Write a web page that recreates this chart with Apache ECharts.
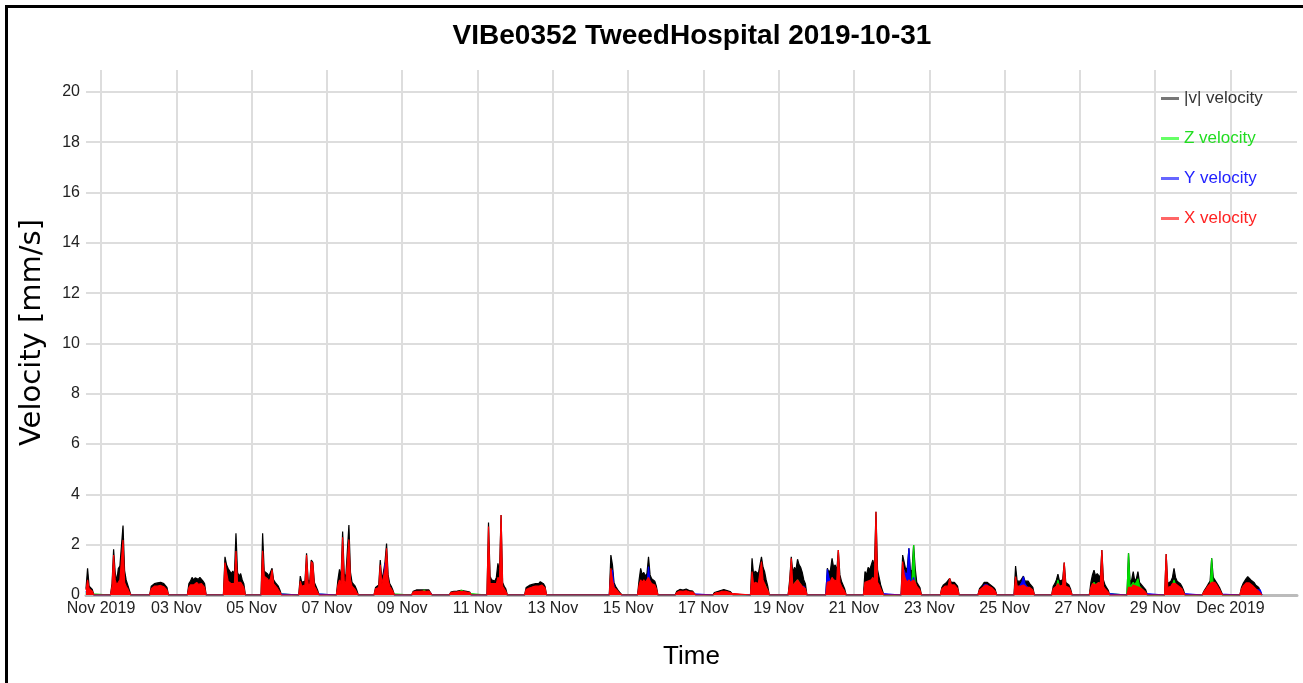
<!DOCTYPE html>
<html>
<head>
<meta charset="utf-8">
<script src="https://cdn.jsdelivr.net/npm/echarts@6/dist/echarts.min.js"></script>
<style>
html, body { margin: 0; padding: 0; background: #ffffff; }
#chart { width: 1303px; height: 683px; }
</style>
</head>
<body>
<div id="chart"></div>
<script>
// ---- Text ----
const chartTitle = 'VIBe0352 TweedHospital 2019-10-31';
const xAxisName = 'Time';
const yAxisName = 'Velocity [mm/s]';
const seriesNames = ['|v| velocity', 'Z velocity', 'Y velocity', 'X velocity'];

// ---- Axes (x in hours since 01 Nov 2019 00:00) ----
const xMinHour = -9.6;
const xMaxHour = 762.4;
const xTickHours = [0, 48, 96, 144, 192, 240, 288, 336, 384, 432, 480, 528, 576, 624, 672, 720];
const xTickLabels = ['Nov 2019', '03 Nov', '05 Nov', '07 Nov', '09 Nov', '11 Nov', '13 Nov', '15 Nov',
  '17 Nov', '19 Nov', '21 Nov', '23 Nov', '25 Nov', '27 Nov', '29 Nov', 'Dec 2019'];
const yMaxValue = 20.87;
const yTicks = [0, 2, 4, 6, 8, 10, 12, 14, 16, 18, 20];

// ---- Data: start hour of each activity burst, then hourly readings per burst ----
const burstStartHours = [-9.6, 6, 31, 55, 78, 102, 126, 150, 174, 198, 222, 246, 270, 324, 342, 366,
  390, 414, 438, 462, 486, 510, 535, 559, 582, 606, 630, 654, 678, 702, 726];

const vVelocity = [
  [0.25, 1.06, 0.35, 0.3, 0.22, 0],
  [0, 0.45, 1.82, 0.9, 0.55, 1.05, 1.15, 1.1, 2.76, 0.97, 0.6, 0.4, 0.2, 0],
  [0, 0.35, 0.42, 0.45, 0.5, 0.48, 0.55, 0.5, 0.52, 0.45, 0.4, 0.3, 0],
  [0, 0.45, 0.55, 0.7, 0.6, 0.68, 0.72, 0.62, 0.7, 0.65, 0.55, 0.45, 0],
  [0, 1.52, 1.2, 1.05, 1.1, 0.85, 0.95, 0.8, 2.45, 0.9, 0.75, 0.85, 0.6, 0.45, 0],
  [0, 2.45, 0.95, 0.9, 0.85, 0.75, 0.8, 1.06, 0.6, 0.5, 0.45, 0.35, 0.2, 0],
  [0, 0.75, 0.5, 0.45, 0.55, 1.66, 0.6, 0.5, 1.39, 1.3, 0.5, 0.35, 0.2, 0],
  [0, 0.6, 1.02, 0.7, 2.52, 0.85, 0.7, 0.75, 2.78, 0.9, 0.5, 0.45, 0.35, 0.2, 0],
  [0, 0.3, 0.35, 0.4, 1.39, 0.6, 0.9, 1.3, 2.05, 0.8, 0.45, 0.35, 0.2, 0],
  [0, 0.15, 0.18, 0.2, 0.18, 0.2, 0.19, 0.2, 0.22, 0.2, 0.19, 0.2, 0.18, 0],
  [0, 0.12, 0.14, 0.15, 0.15, 0.16, 0.17, 0.18, 0.22, 0.17, 0.16, 0.15, 0.14, 0.12, 0],
  [0, 2.88, 0.75, 0.6, 0.65, 0.55, 0.7, 1.26, 0.9, 3.18, 0.5, 0.35, 0.25, 0],
  [0, 0.3, 0.35, 0.38, 0.4, 0.42, 0.4, 0.45, 0.48, 0.45, 0.53, 0.5, 0.45, 0.35, 0],
  [0, 1.59, 1.2, 0.5, 0.35, 0.25, 0.15, 0.1, 0],
  [0, 0.6, 1.06, 0.8, 0.9, 0.75, 0.85, 1.52, 0.8, 0.65, 0.7, 0.55, 0.35, 0],
  [0, 0.15, 0.2, 0.22, 0.24, 0.2, 0.22, 0.24, 0.2, 0.18, 0.2, 0.16, 0.12, 0],
  [0, 0.1, 0.12, 0.14, 0.15, 0.18, 0.2, 0.22, 0.2, 0.18, 0.16, 0.14, 0.1, 0],
  [0, 1.46, 0.8, 0.95, 1.0, 0.85, 0.9, 1.52, 1.1, 0.93, 0.6, 0.35, 0],
  [0, 0.6, 1.52, 0.9, 1.1, 1.0, 1.42, 1.2, 1.1, 0.9, 0.6, 0.45, 0],
  [0, 1.06, 0.9, 1.0, 1.46, 1.1, 1.2, 0.95, 1.79, 0.8, 0.55, 0.4, 0.25, 0],
  [0, 0.93, 0.8, 1.1, 1.0, 1.2, 1.39, 1.1, 3.31, 1.0, 0.7, 0.4, 0.2, 0],
  [0, 1.59, 1.3, 1.0, 1.1, 1.86, 0.9, 1.0, 1.99, 1.06, 0.5, 0.45, 0.3, 0],
  [0, 0.3, 0.4, 0.45, 0.5, 0.45, 0.66, 0.5, 0.52, 0.5, 0.45, 0.35, 0],
  [0, 0.25, 0.3, 0.4, 0.5, 0.56, 0.5, 0.45, 0.4, 0.35, 0.3, 0.22, 0],
  [0, 1.15, 0.55, 0.5, 0.55, 0.6, 0.75, 0.55, 0.5, 0.55, 0.45, 0.4, 0.3, 0],
  [0, 0.35, 0.45, 0.6, 0.83, 0.55, 0.5, 0.6, 1.29, 0.5, 0.55, 0.4, 0.25, 0],
  [0, 0.5, 0.8, 0.99, 0.75, 0.85, 0.9, 0.7, 1.79, 0.6, 0.4, 0.3, 0.2, 0],
  [0, 1.66, 0.5, 0.6, 0.93, 0.55, 0.65, 0.93, 0.5, 0.45, 0.35, 0.3, 0.2, 0],
  [0, 1.63, 0.45, 0.5, 0.55, 0.7, 1.06, 0.7, 0.55, 0.5, 0.45, 0.35, 0.2, 0],
  [0, 0.15, 0.25, 0.35, 0.45, 0.55, 1.46, 0.7, 0.6, 0.5, 0.4, 0.3, 0.15, 0],
  [0, 0.3, 0.45, 0.55, 0.65, 0.73, 0.7, 0.6, 0.55, 0.5, 0.4, 0.35, 0.3, 0.25, 0]
];

const zVelocity = [
  [0.05, 0.2, 0.1, 0.08, 0.05, 0],
  [0, 0.1, 0.3, 0.2, 0.25, 0.4, 0.45, 0.35, 0.5, 0.3, 0.2, 0.1, 0.05, 0],
  [0, 0.05, 0.08, 0.1, 0.1, 0.1, 0.12, 0.1, 0.1, 0.1, 0.08, 0.05, 0],
  [0, 0.08, 0.1, 0.12, 0.1, 0.12, 0.15, 0.1, 0.12, 0.1, 0.1, 0.08, 0],
  [0, 0.3, 0.5, 0.3, 0.35, 0.25, 0.3, 0.25, 0.45, 0.3, 0.25, 0.35, 0.2, 0.1, 0],
  [0, 0.4, 0.45, 0.4, 0.35, 0.3, 0.35, 0.4, 0.25, 0.2, 0.15, 0.1, 0.05, 0],
  [0, 0.15, 0.1, 0.12, 0.15, 0.3, 0.15, 0.12, 0.25, 0.25, 0.12, 0.08, 0.04, 0],
  [0, 0.15, 0.3, 0.2, 0.35, 0.25, 0.2, 0.2, 0.4, 0.25, 0.15, 0.1, 0.08, 0.04, 0],
  [0, 0.08, 0.1, 0.1, 0.3, 0.2, 0.3, 0.4, 0.5, 0.25, 0.15, 0.1, 0.05, 0],
  [0, 0.08, 0.1, 0.1, 0.1, 0.12, 0.1, 0.12, 0.2, 0.12, 0.1, 0.1, 0.08, 0],
  [0, 0.06, 0.07, 0.08, 0.08, 0.09, 0.1, 0.1, 0.2, 0.1, 0.09, 0.08, 0.07, 0.06, 0],
  [0, 0.3, 0.25, 0.2, 0.3, 0.2, 0.25, 0.35, 0.3, 0.4, 0.2, 0.1, 0.05, 0],
  [0, 0.08, 0.1, 0.1, 0.12, 0.12, 0.12, 0.13, 0.14, 0.13, 0.15, 0.14, 0.12, 0.1, 0],
  [0, 0.3, 0.25, 0.1, 0.08, 0.06, 0.04, 0.02, 0],
  [0, 0.15, 0.25, 0.3, 0.5, 0.4, 0.35, 0.4, 0.3, 0.25, 0.2, 0.15, 0.08, 0],
  [0, 0.04, 0.05, 0.06, 0.06, 0.05, 0.06, 0.06, 0.05, 0.05, 0.05, 0.04, 0.03, 0],
  [0, 0.03, 0.04, 0.05, 0.05, 0.06, 0.07, 0.08, 0.07, 0.06, 0.05, 0.04, 0.03, 0],
  [0, 0.3, 0.25, 0.3, 0.3, 0.3, 0.35, 0.4, 0.45, 0.45, 0.4, 0.15, 0],
  [0, 0.2, 0.4, 0.3, 0.45, 0.5, 0.6, 0.55, 0.4, 0.3, 0.2, 0.15, 0],
  [0, 0.3, 0.25, 0.3, 0.3, 0.3, 0.35, 0.3, 0.4, 0.25, 0.2, 0.1, 0.05, 0],
  [0, 0.25, 0.25, 0.3, 0.3, 0.35, 0.4, 0.35, 0.45, 0.3, 0.25, 0.12, 0.05, 0],
  [0, 0.3, 0.4, 0.4, 0.5, 0.6, 0.5, 0.6, 1.99, 0.5, 0.3, 0.2, 0.1, 0],
  [0, 0.1, 0.15, 0.2, 0.25, 0.2, 0.25, 0.2, 0.25, 0.2, 0.15, 0.1, 0],
  [0, 0.06, 0.08, 0.1, 0.12, 0.12, 0.1, 0.1, 0.09, 0.08, 0.06, 0.05, 0],
  [0, 0.2, 0.15, 0.15, 0.15, 0.2, 0.2, 0.2, 0.15, 0.15, 0.12, 0.1, 0.06, 0],
  [0, 0.15, 0.2, 0.3, 0.6, 0.3, 0.25, 0.3, 0.4, 0.25, 0.2, 0.15, 0.08, 0],
  [0, 0.25, 0.4, 0.5, 0.4, 0.45, 0.5, 0.35, 0.45, 0.25, 0.15, 0.1, 0.06, 0],
  [0, 1.66, 0.3, 0.4, 0.5, 0.4, 0.45, 0.65, 0.35, 0.3, 0.2, 0.15, 0.08, 0],
  [0, 0.3, 0.2, 0.25, 0.3, 0.4, 0.6, 0.4, 0.3, 0.25, 0.2, 0.15, 0.08, 0],
  [0, 0.08, 0.12, 0.15, 0.2, 0.25, 1.46, 0.3, 0.25, 0.2, 0.15, 0.1, 0.05, 0],
  [0, 0.08, 0.1, 0.12, 0.15, 0.18, 0.15, 0.12, 0.1, 0.1, 0.08, 0.06, 0.05, 0.04, 0]
];

const yVelocity = [
  [0.1, 0.3, 0.15, 0.1, 0.08, 0],
  [0, 0.15, 0.3, 0.2, 0.2, 0.3, 0.35, 0.3, 0.4, 0.25, 0.2, 0.15, 0.08, 0],
  [0, 0.1, 0.15, 0.15, 0.18, 0.15, 0.2, 0.18, 0.18, 0.15, 0.12, 0.08, 0],
  [0, 0.15, 0.2, 0.25, 0.2, 0.22, 0.25, 0.2, 0.25, 0.22, 0.2, 0.15, 0],
  [0, 0.4, 0.3, 0.25, 0.3, 0.2, 0.25, 0.2, 0.4, 0.25, 0.2, 0.3, 0.2, 0.1, 0],
  [0, 0.3, 0.3, 0.25, 0.25, 0.2, 0.2, 0.3, 0.2, 0.15, 0.12, 0.1, 0.05, 0],
  [0, 0.2, 0.15, 0.15, 0.2, 0.3, 0.2, 0.15, 0.3, 0.3, 0.15, 0.1, 0.05, 0],
  [0, 0.2, 0.35, 0.25, 0.4, 0.3, 0.25, 0.3, 0.5, 0.3, 0.2, 0.15, 0.1, 0.05, 0],
  [0, 0.1, 0.15, 0.15, 0.5, 0.3, 0.5, 1.26, 0.8, 0.4, 0.2, 0.15, 0.08, 0],
  [0, 0.06, 0.08, 0.08, 0.08, 0.09, 0.08, 0.09, 0.1, 0.09, 0.08, 0.09, 0.08, 0],
  [0, 0.05, 0.06, 0.06, 0.06, 0.07, 0.07, 0.08, 0.09, 0.07, 0.07, 0.06, 0.06, 0.05, 0],
  [0, 0.4, 0.2, 0.2, 0.2, 0.2, 0.2, 0.3, 0.25, 0.4, 0.15, 0.1, 0.08, 0],
  [0, 0.1, 0.12, 0.12, 0.14, 0.15, 0.14, 0.16, 0.17, 0.16, 0.18, 0.17, 0.15, 0.12, 0],
  [0, 0.7, 1.0, 0.3, 0.15, 0.1, 0.06, 0.04, 0],
  [0, 0.2, 0.3, 0.3, 0.35, 0.3, 0.4, 1.13, 0.4, 0.3, 0.3, 0.2, 0.1, 0],
  [0, 0.06, 0.08, 0.1, 0.12, 0.1, 0.1, 0.12, 0.1, 0.08, 0.1, 0.08, 0.05, 0],
  [0, 0.04, 0.05, 0.06, 0.06, 0.07, 0.08, 0.09, 0.08, 0.07, 0.06, 0.05, 0.04, 0],
  [0, 0.4, 0.3, 0.35, 0.3, 0.3, 0.3, 0.4, 0.3, 0.3, 0.2, 0.1, 0],
  [0, 0.2, 0.5, 0.3, 0.35, 0.3, 0.4, 0.35, 0.3, 0.3, 0.35, 0.3, 0],
  [0, 1.02, 0.7, 0.5, 0.6, 0.45, 0.4, 0.4, 0.5, 0.3, 0.2, 0.15, 0.08, 0],
  [0, 0.3, 0.3, 0.4, 0.35, 0.4, 0.45, 0.4, 0.5, 0.4, 0.3, 0.15, 0.06, 0],
  [0, 0.5, 1.0, 0.8, 0.9, 1.86, 0.6, 0.5, 0.7, 0.4, 0.2, 0.15, 0.1, 0],
  [0, 0.1, 0.15, 0.15, 0.2, 0.15, 0.2, 0.2, 0.2, 0.18, 0.15, 0.1, 0],
  [0, 0.12, 0.15, 0.25, 0.4, 0.45, 0.4, 0.3, 0.25, 0.2, 0.15, 0.1, 0],
  [0, 0.3, 0.25, 0.3, 0.35, 0.5, 0.73, 0.45, 0.35, 0.3, 0.25, 0.2, 0.1, 0],
  [0, 0.12, 0.15, 0.2, 0.3, 0.2, 0.2, 0.25, 0.3, 0.2, 0.2, 0.15, 0.08, 0],
  [0, 0.2, 0.3, 0.35, 0.3, 0.3, 0.35, 0.3, 0.4, 0.25, 0.15, 0.1, 0.06, 0],
  [0, 0.2, 0.15, 0.2, 0.25, 0.2, 0.2, 0.3, 0.2, 0.2, 0.15, 0.12, 0.06, 0],
  [0, 0.3, 0.15, 0.2, 0.2, 0.25, 0.3, 0.25, 0.2, 0.2, 0.15, 0.12, 0.06, 0],
  [0, 0.06, 0.1, 0.12, 0.15, 0.18, 0.2, 0.2, 0.18, 0.15, 0.12, 0.08, 0.04, 0],
  [0, 0.1, 0.15, 0.2, 0.22, 0.25, 0.25, 0.22, 0.2, 0.2, 0.18, 0.2, 0.25, 0.2, 0]
];

const xVelocity = [
  [0.2, 0.6, 0.25, 0.2, 0.15, 0],
  [0, 0.35, 1.59, 0.6, 0.4, 0.5, 0.6, 0.55, 2.19, 0.5, 0.35, 0.25, 0.12, 0],
  [0, 0.25, 0.3, 0.35, 0.38, 0.35, 0.4, 0.38, 0.4, 0.33, 0.3, 0.2, 0],
  [0, 0.3, 0.4, 0.45, 0.4, 0.45, 0.5, 0.42, 0.48, 0.45, 0.4, 0.3, 0],
  [0, 1.29, 0.9, 0.55, 0.6, 0.45, 0.5, 0.45, 1.75, 0.5, 0.45, 0.5, 0.4, 0.3, 0],
  [0, 1.76, 0.75, 0.7, 0.65, 0.55, 0.65, 1.0, 0.45, 0.4, 0.3, 0.25, 0.12, 0],
  [0, 0.55, 0.35, 0.3, 0.4, 1.59, 0.45, 0.35, 1.33, 1.25, 0.35, 0.25, 0.12, 0],
  [0, 0.4, 0.6, 0.45, 2.29, 0.55, 0.45, 0.5, 2.21, 0.6, 0.35, 0.3, 0.22, 0.1, 0],
  [0, 0.25, 0.3, 0.3, 1.2, 0.45, 0.7, 1.0, 1.86, 0.6, 0.35, 0.25, 0.15, 0],
  [0, 0.12, 0.14, 0.15, 0.14, 0.15, 0.15, 0.16, 0.17, 0.15, 0.15, 0.16, 0.14, 0],
  [0, 0.1, 0.11, 0.12, 0.12, 0.13, 0.14, 0.15, 0.18, 0.14, 0.13, 0.12, 0.11, 0.1, 0],
  [0, 2.72, 0.45, 0.4, 0.45, 0.4, 0.45, 0.7, 0.6, 3.18, 0.35, 0.25, 0.15, 0],
  [0, 0.22, 0.25, 0.28, 0.3, 0.32, 0.3, 0.35, 0.38, 0.35, 0.42, 0.4, 0.35, 0.28, 0],
  [0, 1.06, 0.6, 0.3, 0.25, 0.18, 0.1, 0.06, 0],
  [0, 0.4, 0.6, 0.5, 0.6, 0.5, 0.55, 0.7, 0.55, 0.45, 0.5, 0.4, 0.25, 0],
  [0, 0.1, 0.14, 0.16, 0.17, 0.15, 0.16, 0.17, 0.15, 0.13, 0.14, 0.12, 0.08, 0],
  [0, 0.07, 0.09, 0.1, 0.11, 0.13, 0.15, 0.16, 0.15, 0.13, 0.12, 0.1, 0.07, 0],
  [0, 0.93, 0.4, 0.5, 0.5, 0.45, 0.5, 1.33, 0.6, 0.45, 0.3, 0.2, 0],
  [0, 0.45, 1.46, 0.35, 0.45, 0.4, 0.6, 0.5, 0.5, 0.35, 0.3, 0.25, 0],
  [0, 0.5, 0.5, 0.55, 0.7, 0.6, 0.65, 0.55, 1.79, 0.5, 0.35, 0.25, 0.15, 0],
  [0, 0.5, 0.45, 0.55, 0.5, 0.6, 0.7, 0.55, 3.31, 0.5, 0.4, 0.25, 0.12, 0],
  [0, 1.33, 0.8, 0.6, 0.5, 0.6, 0.5, 0.5, 0.6, 0.5, 0.35, 0.3, 0.2, 0],
  [0, 0.25, 0.3, 0.35, 0.4, 0.35, 0.66, 0.4, 0.42, 0.4, 0.35, 0.25, 0],
  [0, 0.2, 0.25, 0.3, 0.35, 0.4, 0.38, 0.35, 0.3, 0.28, 0.22, 0.15, 0],
  [0, 0.73, 0.35, 0.3, 0.35, 0.35, 0.4, 0.35, 0.3, 0.35, 0.3, 0.25, 0.2, 0],
  [0, 0.25, 0.3, 0.35, 0.45, 0.35, 0.35, 0.4, 1.29, 0.35, 0.4, 0.3, 0.18, 0],
  [0, 0.3, 0.45, 0.5, 0.4, 0.45, 0.5, 0.4, 1.79, 0.35, 0.25, 0.2, 0.12, 0],
  [0, 0.3, 0.3, 0.3, 0.4, 0.35, 0.35, 0.4, 0.3, 0.28, 0.22, 0.18, 0.1, 0],
  [0, 1.63, 0.3, 0.35, 0.35, 0.45, 0.5, 0.45, 0.4, 0.35, 0.3, 0.25, 0.12, 0],
  [0, 0.12, 0.2, 0.3, 0.38, 0.45, 0.5, 0.55, 0.5, 0.42, 0.32, 0.22, 0.1, 0],
  [0, 0.25, 0.35, 0.42, 0.48, 0.5, 0.48, 0.42, 0.38, 0.32, 0.25, 0.2, 0.15, 0.1, 0]
];

// ---- Build [hour, value] pairs from the burst tables ----
function toPoints(bursts) {
  const pts = [];
  bursts.forEach(function (vals, b) {
    vals.forEach(function (v, i) { pts.push([burstStartHours[b] + i, v]); });
  });
  return pts;
}

const seriesData = [vVelocity, zVelocity, yVelocity, xVelocity];
const seriesColors = ['#000000', '#00dd00', '#0000ff', '#ff0000'];
const legendIconColors = ['#777777', '#66ff66', '#6666ff', '#ff6666'];
const legendTextColors = ['#333333', '#22dd22', '#2222ff', '#ff2222'];

const chart = echarts.init(document.getElementById('chart'), null, { renderer: 'canvas' });

const option = {
  animation: false,
  backgroundColor: '#ffffff',
  title: {
    text: chartTitle,
    left: 692,
    textAlign: 'center',
    top: 22,
    padding: 0,
    textStyle: { fontFamily: 'Liberation Sans', fontWeight: 'bold', fontSize: 28, color: '#000000' }
  },
  legend: {
    orient: 'vertical',
    left: 1161,
    top: 90,
    padding: 0,
    itemGap: 23,
    itemWidth: 18,
    itemHeight: 3,
    icon: 'rect',
    selectedMode: false,
    textStyle: { fontFamily: 'Liberation Sans', fontSize: 17 },
    data: seriesNames.map(function (n, i) {
      return { name: n, itemStyle: { color: legendIconColors[i] }, textStyle: { color: legendTextColors[i] } };
    })
  },
  grid: { left: 86, right: 6, top: 70, bottom: 88, containLabel: false },
  xAxis: {
    type: 'value',
    min: xMinHour,
    max: xMaxHour,
    name: xAxisName,
    nameLocation: 'middle',
    nameGap: 49,
    nameTextStyle: { fontFamily: 'Liberation Sans', fontSize: 26, color: '#000000' },
    axisLine: { show: true, onZero: false, lineStyle: { color: '#bbbbbb', width: 3 } },
    axisTick: { show: false, customValues: xTickHours },
    axisLabel: {
      customValues: xTickHours,
      margin: 6,
      fontFamily: 'Liberation Sans',
      fontSize: 16,
      color: '#222222',
      formatter: function (v) { const k = xTickHours.indexOf(v); return k >= 0 ? xTickLabels[k] : ''; }
    },
    splitLine: { show: true, lineStyle: { color: '#dddddd', width: 2 } }
  },
  yAxis: {
    type: 'value',
    min: 0,
    max: yMaxValue,
    name: yAxisName,
    nameLocation: 'middle',
    nameGap: 39,
    nameTextStyle: { fontFamily: 'DejaVu Sans', fontSize: 29, color: '#000000' },
    axisLine: { show: false },
    axisTick: { show: false, customValues: yTicks },
    axisLabel: {
      customValues: yTicks,
      margin: 6,
      fontFamily: 'Liberation Sans',
      fontSize: 16,
      color: '#222222'
    },
    splitLine: { show: true, lineStyle: { color: '#dddddd', width: 2 } }
  },
  graphic: [{
    type: 'rect',
    z: 100,
    silent: true,
    shape: { x: 6.5, y: 6.5, width: 1400, height: 800 },
    style: { fill: 'none', stroke: '#000000', lineWidth: 3 }
  }],
  series: seriesNames.map(function (n, i) {
    return {
      name: n,
      type: 'line',
      data: toPoints(seriesData[i]),
      showSymbol: false,
      symbol: 'none',
      silent: true,
      z: 2 + i,
      color: seriesColors[i],
      lineStyle: { color: seriesColors[i], width: 1.2 },
      areaStyle: { color: seriesColors[i], opacity: 1 }
    };
  })
};

chart.setOption(option);
</script>
</body>
</html>
